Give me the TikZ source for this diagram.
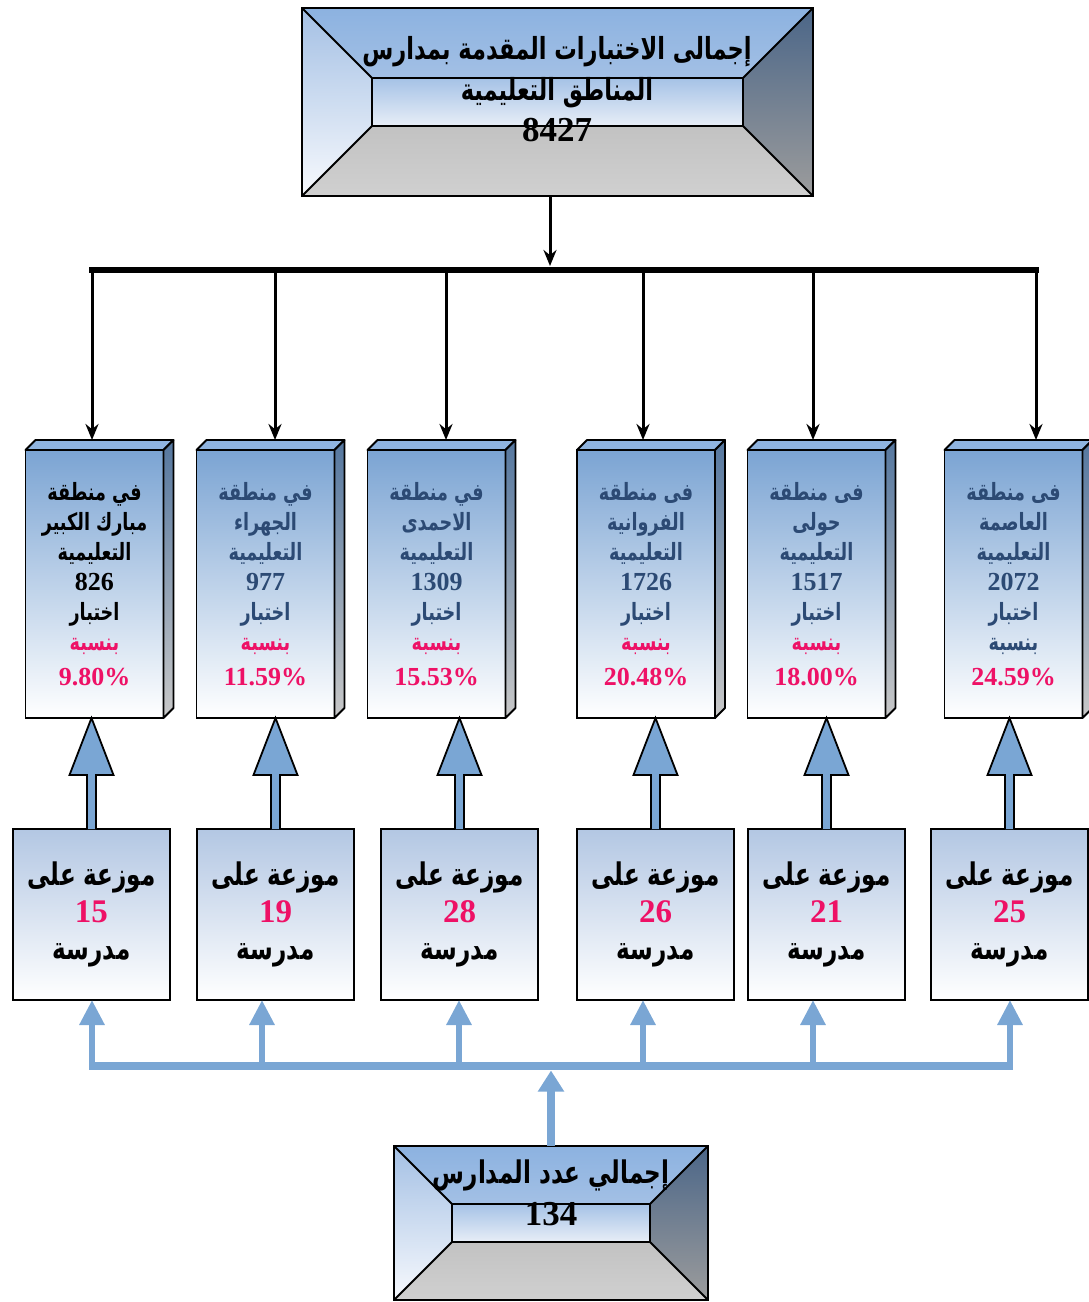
\documentclass[tikz,border=0pt]{standalone}
\usepackage{fontspec}
\setmainfont{Liberation Serif}
\newfontfamily\arabicfont[Script=Arabic,FakeStretch=0.74]{DejaVu Sans}
\TeXXeTstate=1
\usetikzlibrary{calc,arrows.meta}
\newcommand\artx[1]{{\arabicfont\bfseries\beginR #1\endR}}
\newcommand\numtx[2]{{\fontsize{#1}{15}\selectfont\bfseries #2}}
\definecolor{pinkc}{HTML}{EE1166}
\definecolor{navy}{HTML}{2C4A74}
\definecolor{arrblue}{HTML}{7AA6D4}
\definecolor{frontTop}{HTML}{7BA4D3}
\definecolor{topFace}{HTML}{8FB4E0}
\definecolor{sideTop}{HTML}{55779F}
\definecolor{sideBot}{HTML}{C8C8C8}
\definecolor{lowTop}{HTML}{B3C7E3}
\definecolor{bvTopA}{HTML}{8CB2E0}
\definecolor{bvTopB}{HTML}{A3C0E5}
\definecolor{bvLeftA}{HTML}{A4C0E4}
\definecolor{bvLeftB}{HTML}{F7F9FD}
\definecolor{bvRightA}{HTML}{4B6688}
\definecolor{bvRightB}{HTML}{9C9C9C}
\definecolor{bvBotA}{HTML}{C2C2C2}
\definecolor{bvBotB}{HTML}{D0D0D0}
\definecolor{bvInA}{HTML}{A5C2E6}
\definecolor{bvInB}{HTML}{E8EEF7}
\tikzset{
  bevel/.style={inner sep=0pt, outer sep=0pt},
  front/.style={draw, line width=0.9pt, top color=frontTop, bottom color=white,
    minimum width=69pt, minimum height=134pt, inner sep=0pt, outer sep=0pt,
    align=center, font=\fontsize{11.9}{15}\selectfont},
  lowbox/.style={draw, line width=0.9pt, top color=lowTop, bottom color=white,
    minimum width=78.5pt, minimum height=85.5pt, inner sep=0pt, outer sep=0pt,
    align=center, font=\fontsize{15.6}{18.5}\selectfont},
  blk/.style={line width=1.5pt, -{Stealth[length=8pt,width=6.5pt]}},
  bluearr/.style={draw=arrblue, line width=3pt, -{Triangle[length=12.5pt,width=12pt]}},
  facefill/.style={draw=black, line width=0.9pt, line join=round},
}
\newcommand\bevelfaces[2]{%
  \coordinate (#1-a) at ($(#1.north west)+(#2,#2)$);
  \coordinate (#1-b) at ($(#1.north east)+(-#2,#2)$);
  \coordinate (#1-c) at ($(#1.south east)+(-#2,-#2)$);
  \coordinate (#1-d) at ($(#1.south west)+(#2,-#2)$);
  \path[top color=bvTopA,bottom color=bvTopB] (#1.north west) -- (#1.north east) -- (#1-b) -- (#1-a) -- cycle;
  \path[top color=bvLeftA,bottom color=bvLeftB] (#1.north west) -- (#1-a) -- (#1-d) -- (#1.south west) -- cycle;
  \path[top color=bvRightA,bottom color=bvRightB] (#1.north east) -- (#1.south east) -- (#1-c) -- (#1-b) -- cycle;
  \path[top color=bvBotA,bottom color=bvBotB] (#1.south west) -- (#1-d) -- (#1-c) -- (#1.south east) -- cycle;
  \path[top color=bvInA,bottom color=bvInB] (#1-a) rectangle (#1-c);
  \draw[line width=0.9pt] (#1.north west) rectangle (#1.south east) (#1-a) rectangle (#1-c)
    (#1.north west) -- (#1-a) (#1.north east) -- (#1-b) (#1.south east) -- (#1-c) (#1.south west) -- (#1-d);
}
% name, x, text colour, region line (wrapped), number, percent, colour of "bnisba", first line (wrapped)
\newcommand\midbox[8]{%
  \node[front] (#1) at (#2,584) {%
    \textcolor{#3}{#8}\\
    \textcolor{#3}{#4}\\
    \textcolor{#3}{\artx{التعليمية}}\\
    \textcolor{#3}{\numtx{13}{#5}}\\
    \textcolor{#3}{\artx{اختبار}}\\
    \textcolor{#7}{\artx{بنسبة}}\\[2.5pt]
    \textcolor{pinkc}{\numtx{13}{#6}}};
  \path[facefill, fill=topFace] (#1.north west) -- ++(10,-10) -- ($(#1.north east)+(10,-10)$) -- (#1.north east) -- cycle;
  \path[facefill, top color=sideTop, bottom color=sideBot] (#1.north east) -- ++(10,-10) -- ($(#1.south east)+(10,-10)$) -- (#1.south east) -- cycle;
  \coordinate (#1top) at ($(#1.north)+(5,-10)$);
}
\newcommand\lowbx[3]{%
  \node[lowbox] (#1) at (#2,914.5) {\artx{موزعة على}\\
    \textcolor{pinkc}{\numtx{16.5}{#3}}\\
    \artx{مدرسة}};
}
\newcommand\blockarr[2]{%
  \draw[fill=arrblue, line width=0.9pt, line join=miter]
    let \p1=(#1.north), \p2=(#2.south) in
    (\x1-2.25pt,\y1) -- (\x1-2.25pt,\y2-28.5pt) -- (\x1-11pt,\y2-28.5pt) -- (\x1,\y2)
    -- (\x1+11pt,\y2-28.5pt) -- (\x1+2.25pt,\y2-28.5pt) -- (\x1+2.25pt,\y1);
}
\begin{document}
\begin{tikzpicture}[x=0.5pt,y=-0.5pt]
\useasboundingbox (0,0) rectangle (1088,1302);

% ---- top total box
\node[bevel, minimum width=255.5pt, minimum height=94pt] (total) at (557.5,102) {};
\bevelfaces{total}{70}
\node[align=center, inner sep=0pt, font=\fontsize{15.2}{20.5}\selectfont] (totaltxt) at (557,89)
  {\artx{إجمالى الاختبارات المقدمة بمدارس}\\
   \artx{المناطق التعليمية}\\
   {\fontsize{17.5}{20.5}\selectfont\bfseries 8427}};

% ---- region boxes
\midbox{m1}{94.5}{black}{\artx{مبارك الكبير}}{826}{9.80\%}{pinkc}{\artx{في منطقة}}
\midbox{m2}{265.5}{navy}{\artx{الجهراء}}{977}{11.59\%}{pinkc}{\artx{في منطقة}}
\midbox{m3}{436.5}{navy}{\artx{الاحمدى}}{1309}{15.53\%}{pinkc}{\artx{في منطقة}}
\midbox{m4}{646}{navy}{\artx{الفروانية}}{1726}{20.48\%}{pinkc}{\artx{فى منطقة}}
\midbox{m5}{816.5}{navy}{\artx{حولى}}{1517}{18.00\%}{pinkc}{\artx{فى منطقة}}
\midbox{m6}{1013.5}{navy}{\artx{العاصمة}}{2072}{24.59\%}{navy}{\artx{فى منطقة}}

% ---- school boxes
\lowbx{s1}{91.5}{15}
\lowbx{s2}{275.5}{19}
\lowbx{s3}{459.5}{28}
\lowbx{s4}{655.5}{26}
\lowbx{s5}{826.5}{21}
\lowbx{s6}{1009.5}{25}

% ---- bottom total box
\node[bevel, minimum width=157pt, minimum height=77pt] (schools) at (551,1223) {};
\bevelfaces{schools}{58}
\node[align=center, inner sep=0pt, font=\fontsize{15.6}{21}\selectfont] (schoolstxt) at (551,1193)
  {\artx{إجمالي عدد المدارس}\\
   {\fontsize{17.5}{21}\selectfont\bfseries 134}};

% ---- black distribution connectors
\coordinate (hub) at (550,266);
\coordinate (busL) at (89,270);
\coordinate (busR) at (1039,270);
\draw[blk] ($(total.south)+(-7.5,0)$) -- (hub);
\draw[line width=3pt] (busL) -- (busR);
\coordinate (k1) at (92,270);
\coordinate (k2) at (275,270);
\coordinate (k3) at (446,270);
\coordinate (k4) at (643,270);
\coordinate (k5) at (813,270);
\coordinate (k6) at (1036,270);
\foreach \i in {1,...,6}{\draw[blk] (k\i) -- (k\i |- m\i top);}

% ---- block arrows school boxes -> region boxes
\foreach \i in {1,...,6}{\blockarr{s\i}{m\i}}

% ---- blue distribution connectors
\coordinate (bb1) at (92,1066);
\coordinate (bb2) at (262,1066);
\coordinate (bb3) at (459,1066);
\coordinate (bb4) at (643,1066);
\coordinate (bb5) at (813,1066);
\coordinate (bb6) at (1010,1066);
\coordinate (barmid) at (551,1070.5);
\draw[arrblue, line width=4pt] ($(bb1)+(-3,0)$) -- ($(bb6)+(3,0)$);
\foreach \i in {1,...,6}{\draw[bluearr] (bb\i) -- (bb\i |- s\i.south);}
\draw[bluearr, line width=4pt, -{Triangle[length=10.5pt,width=12.5pt]}] (schools.north) -- (barmid);
\end{tikzpicture}
\end{document}
